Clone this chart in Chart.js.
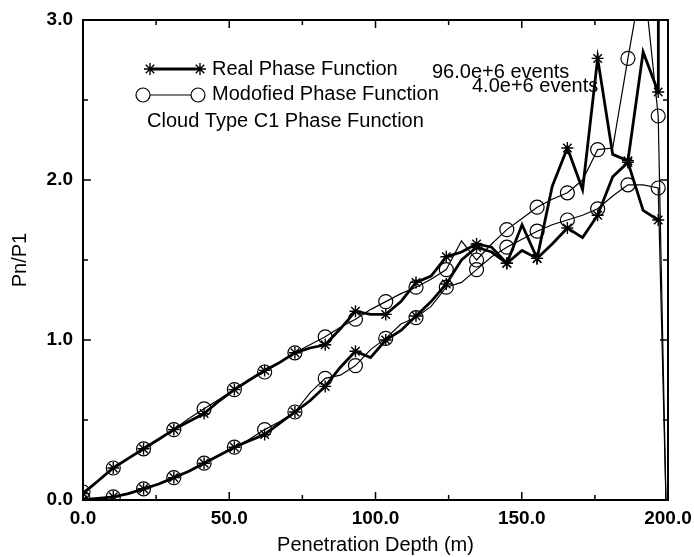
<!DOCTYPE html>
<html>
<head>
<meta charset="utf-8">
<script src="https://cdn.jsdelivr.net/npm/chart.js@4.4.1/dist/chart.umd.min.js"></script>
<style>
  body { margin: 0; background: #fff; }
  #wrap { width: 694px; height: 557px; }
</style>
</head>
<body>
<div id="wrap"><canvas id="myChart" width="694" height="557"></canvas></div>
<script>
// Penetration depth (m), half steps; markers sit on every second point
const depth = [0, 5.2, 10.35, 15.5, 20.7, 25.9, 31.05, 36.2, 41.4, 46.6,
               51.75, 56.9, 62.1, 67.3, 72.45, 77.6, 82.8, 88.0, 93.15, 98.3,
               103.5, 108.7, 113.85, 119.0, 124.2, 129.4, 134.55, 139.7, 144.9, 150.1,
               155.25, 160.4, 165.6, 170.8, 175.95, 181.1, 186.3, 191.5, 196.65];

// Real phase function, 96.0e+6 events
const realUpper = [0.04, 0.12, 0.20, 0.26, 0.32, 0.38, 0.44, 0.49, 0.54, 0.62,
                   0.69, 0.75, 0.81, 0.86, 0.92, 0.95, 0.97, 1.07, 1.18, 1.16,
                   1.16, 1.24, 1.36, 1.40, 1.52, 1.55, 1.60, 1.58, 1.48, 1.72,
                   1.51, 1.96, 2.20, 1.94, 2.76, 2.16, 2.12, 2.80, 2.55];
const realLower = [0.00, 0.01, 0.02, 0.04, 0.07, 0.10, 0.14, 0.18, 0.23, 0.28,
                   0.33, 0.37, 0.41, 0.48, 0.55, 0.62, 0.71, 0.83, 0.93, 0.89,
                   1.00, 1.06, 1.15, 1.24, 1.35, 1.50, 1.58, 1.55, 1.48, 1.56,
                   1.51, 1.60, 1.70, 1.64, 1.78, 2.02, 2.11, 1.81, 1.75];

// Modified phase function, 4.0e+6 events
const modUpper = [0.05, 0.12, 0.20, 0.26, 0.32, 0.38, 0.44, 0.51, 0.57, 0.63,
                  0.69, 0.75, 0.80, 0.86, 0.92, 0.97, 1.02, 1.08, 1.13, 1.19,
                  1.24, 1.29, 1.33, 1.38, 1.44, 1.62, 1.50, 1.60, 1.69, 1.76,
                  1.83, 1.88, 1.92, 2.00, 2.19, 2.20, 2.76, 3.30, 2.40];
const modLower = [0.01, 0.01, 0.02, 0.04, 0.07, 0.10, 0.14, 0.18, 0.23, 0.28,
                  0.33, 0.38, 0.44, 0.49, 0.55, 0.67, 0.76, 0.78, 0.84, 0.94,
                  1.01, 1.10, 1.14, 1.21, 1.33, 1.36, 1.44, 1.52, 1.58, 1.63,
                  1.68, 1.72, 1.75, 1.78, 1.82, 1.90, 1.97, 1.97, 1.95];

// last unmarked points past the final bin
const realUpperTail = [[196.7, 3.4]];
const modUpperTail = [[199.3, 0.0]];
const modLowerTail = [[199.3, 0.0]];

const xTicks = [0, 50, 100, 150, 200];
const yTicks = [0, 1, 2, 3];
const xMinor = [25, 75, 125, 175];
const yMinor = [0.5, 1.5, 2.5];

const FONT = "'Liberation Sans', Arial, Helvetica, sans-serif";

function toPoints(values, tail) {
    let pts = values.map((v, i) => ({ x: depth[i], y: v }));
    for (const [x, y] of (tail || [])) pts.push({ x: x, y: y });
    return pts;
}

function markerRadius(r) {
    return (ctx) => (ctx.dataIndex % 2 === 0 && ctx.dataIndex < depth.length) ? r : 0;
}

function realSet(values, tail) {
    return {
        data: toPoints(values, tail),
        borderColor: '#000',
        borderWidth: 2.8,
        pointStyle: 'star',
        pointRadius: markerRadius(6),
        pointBorderWidth: 1.4,
        pointBorderColor: '#000',
        pointBackgroundColor: 'rgba(0,0,0,0)',
        tension: 0
    };
}

function modSet(values, tail) {
    return {
        data: toPoints(values, tail),
        borderColor: '#000',
        borderWidth: 1.2,
        pointStyle: 'circle',
        pointRadius: markerRadius(7),
        pointBorderWidth: 1.2,
        pointBorderColor: '#000',
        pointBackgroundColor: 'rgba(0,0,0,0)',
        tension: 0
    };
}

function star(ctx, x, y, r) {
    ctx.beginPath();
    for (let k = 0; k < 4; k++) {
        const a = k * Math.PI / 4;
        ctx.moveTo(x - r * Math.cos(a), y - r * Math.sin(a));
        ctx.lineTo(x + r * Math.cos(a), y + r * Math.sin(a));
    }
    ctx.stroke();
}

// frame with inward ticks on all four sides
const framePlugin = {
    id: 'frame',
    afterDatasetsDraw(chart) {
        const ctx = chart.ctx;
        const a = chart.chartArea;
        const xs = chart.scales.x, ys = chart.scales.y;
        ctx.save();
        ctx.strokeStyle = '#000';
        ctx.lineWidth = 2;
        ctx.strokeRect(a.left, a.top, a.right - a.left, a.bottom - a.top);
        ctx.lineWidth = 1.5;
        ctx.beginPath();
        const tickX = (v, len) => {
            const px = xs.getPixelForValue(v);
            ctx.moveTo(px, a.bottom); ctx.lineTo(px, a.bottom - len);
            ctx.moveTo(px, a.top); ctx.lineTo(px, a.top + len);
        };
        const tickY = (v, len) => {
            const py = ys.getPixelForValue(v);
            ctx.moveTo(a.left, py); ctx.lineTo(a.left + len, py);
            ctx.moveTo(a.right, py); ctx.lineTo(a.right - len, py);
        };
        xTicks.forEach(v => tickX(v, 8));
        xMinor.forEach(v => tickX(v, 5));
        yTicks.forEach(v => tickY(v, 8));
        yMinor.forEach(v => tickY(v, 5));
        ctx.stroke();
        ctx.restore();
    }
};

// legend and notes drawn inside the plot
const notesPlugin = {
    id: 'notes',
    afterDraw(chart) {
        const ctx = chart.ctx;
        ctx.save();
        ctx.strokeStyle = '#000';
        ctx.fillStyle = '#000';
        ctx.font = '20px ' + FONT;
        ctx.textBaseline = 'middle';

        // real phase function sample
        ctx.lineWidth = 2.8;
        ctx.beginPath(); ctx.moveTo(150, 69); ctx.lineTo(200, 69); ctx.stroke();
        ctx.lineWidth = 1.4;
        star(ctx, 150, 69, 6);
        star(ctx, 200, 69, 6);
        ctx.fillText('Real Phase Function', 212, 69);
        ctx.fillText('96.0e+6 events', 432, 72);

        // modified phase function sample
        ctx.lineWidth = 1.2;
        ctx.beginPath(); ctx.moveTo(150, 95); ctx.lineTo(191, 95); ctx.stroke();
        ctx.beginPath(); ctx.arc(143, 95, 7, 0, 2 * Math.PI); ctx.stroke();
        ctx.beginPath(); ctx.arc(198, 95, 7, 0, 2 * Math.PI); ctx.stroke();
        ctx.fillText('Modofied Phase Function', 212, 94);
        ctx.fillText('4.0e+6 events', 472, 86);

        ctx.fillText('Cloud Type C1 Phase Function', 147, 121);
        ctx.restore();
    }
};

const config = {
    type: 'line',
    data: {
        datasets: [
            modSet(modUpper, modUpperTail),
            modSet(modLower, modLowerTail),
            realSet(realUpper, realUpperTail),
            realSet(realLower)
        ]
    },
    options: {
        responsive: false,
        animation: false,
        layout: { padding: { left: 0, right: 26, top: 20, bottom: 0 } },
        plugins: {
            legend: { display: false },
            tooltip: { enabled: false }
        },
        scales: {
            x: {
                type: 'linear',
                min: 0,
                max: 200,
                afterFit: (scale) => {
                    scale.height = 57;
                    scale.paddingLeft = 0;
                    scale.paddingRight = 0;
                },
                afterBuildTicks: (scale) => { scale.ticks = xTicks.map(v => ({ value: v })); },
                grid: { display: false, drawTicks: false },
                border: { display: false },
                ticks: {
                    color: '#000',
                    padding: 7,
                    maxRotation: 0,
                    font: { family: FONT, size: 19, weight: 'bold' },
                    callback: (v) => v.toFixed(1)
                },
                title: {
                    display: true,
                    text: 'Penetration Depth (m)',
                    color: '#000',
                    padding: { top: 0, bottom: 0 },
                    font: { family: FONT, size: 20 }
                }
            },
            y: {
                type: 'linear',
                min: 0,
                max: 3,
                afterFit: (scale) => {
                    scale.width = 83;
                    scale.paddingTop = 0;
                    scale.paddingBottom = 0;
                },
                afterBuildTicks: (scale) => { scale.ticks = yTicks.map(v => ({ value: v })); },
                grid: { display: false, drawTicks: false },
                border: { display: false },
                ticks: {
                    color: '#000',
                    padding: 10,
                    font: { family: FONT, size: 19, weight: 'bold' },
                    callback: (v) => v.toFixed(1)
                },
                title: {
                    display: true,
                    text: 'Pn/P1',
                    color: '#000',
                    padding: { top: 8, bottom: 0 },
                    font: { family: FONT, size: 20 }
                }
            }
        }
    },
    plugins: [framePlugin, notesPlugin]
};

const myChart = new Chart(document.getElementById('myChart'), config);
</script>
</body>
</html>
